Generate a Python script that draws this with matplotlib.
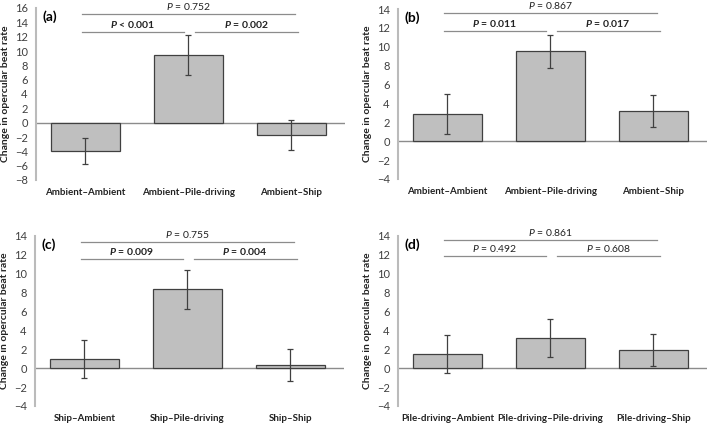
import numpy as np
import matplotlib
matplotlib.use('Agg')
import matplotlib.pyplot as plt

plt.rcParams['font.family'] = ['Lato', 'DejaVu Sans']
plt.rcParams['mathtext.fontset'] = 'custom'
plt.rcParams['mathtext.it'] = 'Lato:italic'
plt.rcParams['mathtext.bf'] = 'Lato:bold:italic'

# panel data
labels_a = ['Ambient–Ambient', 'Ambient–Pile-driving', 'Ambient–Ship']
means_a = [-4.0, 9.4, -1.7]
errs_a = [1.8, 2.8, 2.1]
pvals_a = ['< 0.001', '= 0.002', '= 0.752']

labels_b = ['Ambient–Ambient', 'Ambient–Pile-driving', 'Ambient–Ship']
means_b = [2.9, 9.5, 3.2]
errs_b = [2.1, 1.7, 1.7]
pvals_b = ['= 0.011', '= 0.017', '= 0.867']

labels_c = ['Ship–Ambient', 'Ship–Pile-driving', 'Ship–Ship']
means_c = [1.0, 8.35, 0.3]
errs_c = [2.0, 2.05, 1.7]
pvals_c = ['= 0.009', '= 0.004', '= 0.755']

labels_d = ['Pile-driving–Ambient', 'Pile-driving–Pile-driving', 'Pile-driving–Ship']
means_d = [1.5, 3.2, 1.9]
errs_d = [2.0, 2.0, 1.7]
pvals_d = ['= 0.492', '= 0.608', '= 0.861']

panels = [
    # tag, labels, means, errs, pvals, bold p, ylim, ticks, axes rect, bracket lower/upper
    ('(a)', labels_a, means_a, errs_a, pvals_a, True, (-8, 16), np.arange(-8, 17, 2),
     [36/709, 1-180/426, 309/709, 172/426], (12.7, 15.1)),
    ('(b)', labels_b, means_b, errs_b, pvals_b, True, (-4, 14), np.arange(-4, 15, 2),
     [398/709, 1-179/426, 309/709, 170/426], (11.7, 13.6)),
    ('(c)', labels_c, means_c, errs_c, pvals_c, True, (-4, 14), np.arange(-4, 15, 2),
     [35/709, 1-406/426, 309/709, 170/426], (11.6, 13.4)),
    ('(d)', labels_d, means_d, errs_d, pvals_d, False, (-4, 14), np.arange(-4, 15, 2),
     [398/709, 1-406/426, 309/709, 170/426], (11.9, 13.6)),
]

fig = plt.figure(figsize=(7.09, 4.26), dpi=100)
line_col = '#8c8c8c'

for tag, labels, means, errs, pvals, bold, ylim, ticks, rect, (y_lo, y_hi) in panels:
    ax = fig.add_axes(rect)
    ind = np.arange(len(labels))
    ax.bar(ind, means, 0.67, color='#bfbfbf', edgecolor='#404040', linewidth=0.9, zorder=2)
    ax.errorbar(ind, means, yerr=errs, fmt='none', ecolor='#404040', elinewidth=0.9,
                capsize=2.5, capthick=0.9, zorder=3)
    ax.axhline(0, color=line_col, linewidth=1.0, zorder=1)
    ax.set_xlim(-0.48, 2.52)
    ax.set_ylim(*ylim)
    ax.set_yticks(ticks)
    ax.set_yticklabels(['−%d' % -t if t < 0 else '%d' % t for t in ticks])
    ax.tick_params(axis='y', length=0, labelsize=8, colors='#404040', pad=6)
    ax.set_xticks([])
    for s in ['top', 'right', 'bottom']:
        ax.spines[s].set_visible(False)
    ax.spines['left'].set_color('#bbbbbb')
    ax.spines['left'].set_linewidth(1.5)
    ax.set_ylabel('Change in opercular beat rate', fontsize=7.5, fontweight='bold',
                  color='#222222', labelpad=3)
    for i, lab in enumerate(labels):
        ax.annotate(lab, (i, 0), xycoords=('data', 'axes fraction'), xytext=(0, -6),
                    textcoords='offset points', ha='center', va='top',
                    fontsize=7, fontweight='bold', color='#222222')
    ax.text(0.02, 0.985, tag, transform=ax.transAxes, fontsize=10, fontweight='bold',
            ha='left', va='top')

    # significance brackets
    kw = dict(color=line_col, linewidth=0.9, clip_on=False)
    ax.plot([-0.03, 0.955], [y_lo, y_lo], **kw)
    ax.plot([1.06, 2.06], [y_lo, y_lo], **kw)
    ax.plot([-0.03, 2.03], [y_hi, y_hi], **kw)
    for x, y, p, b in [(0.46, y_lo, pvals[0], bold), (1.56, y_lo, pvals[1], bold),
                       (1.0, y_hi, pvals[2], False)]:
        ptxt = '$\\mathbf{P}$ ' if b else '$\\mathit{P}$ '
        ax.annotate(ptxt + p, (x, y), xytext=(0, 1.5), textcoords='offset points',
                    ha='center', va='bottom', fontsize=7.5,
                    fontweight='bold' if b else 'normal',
                    color='#222222', annotation_clip=False)

plt.savefig('out.png', dpi=100)
